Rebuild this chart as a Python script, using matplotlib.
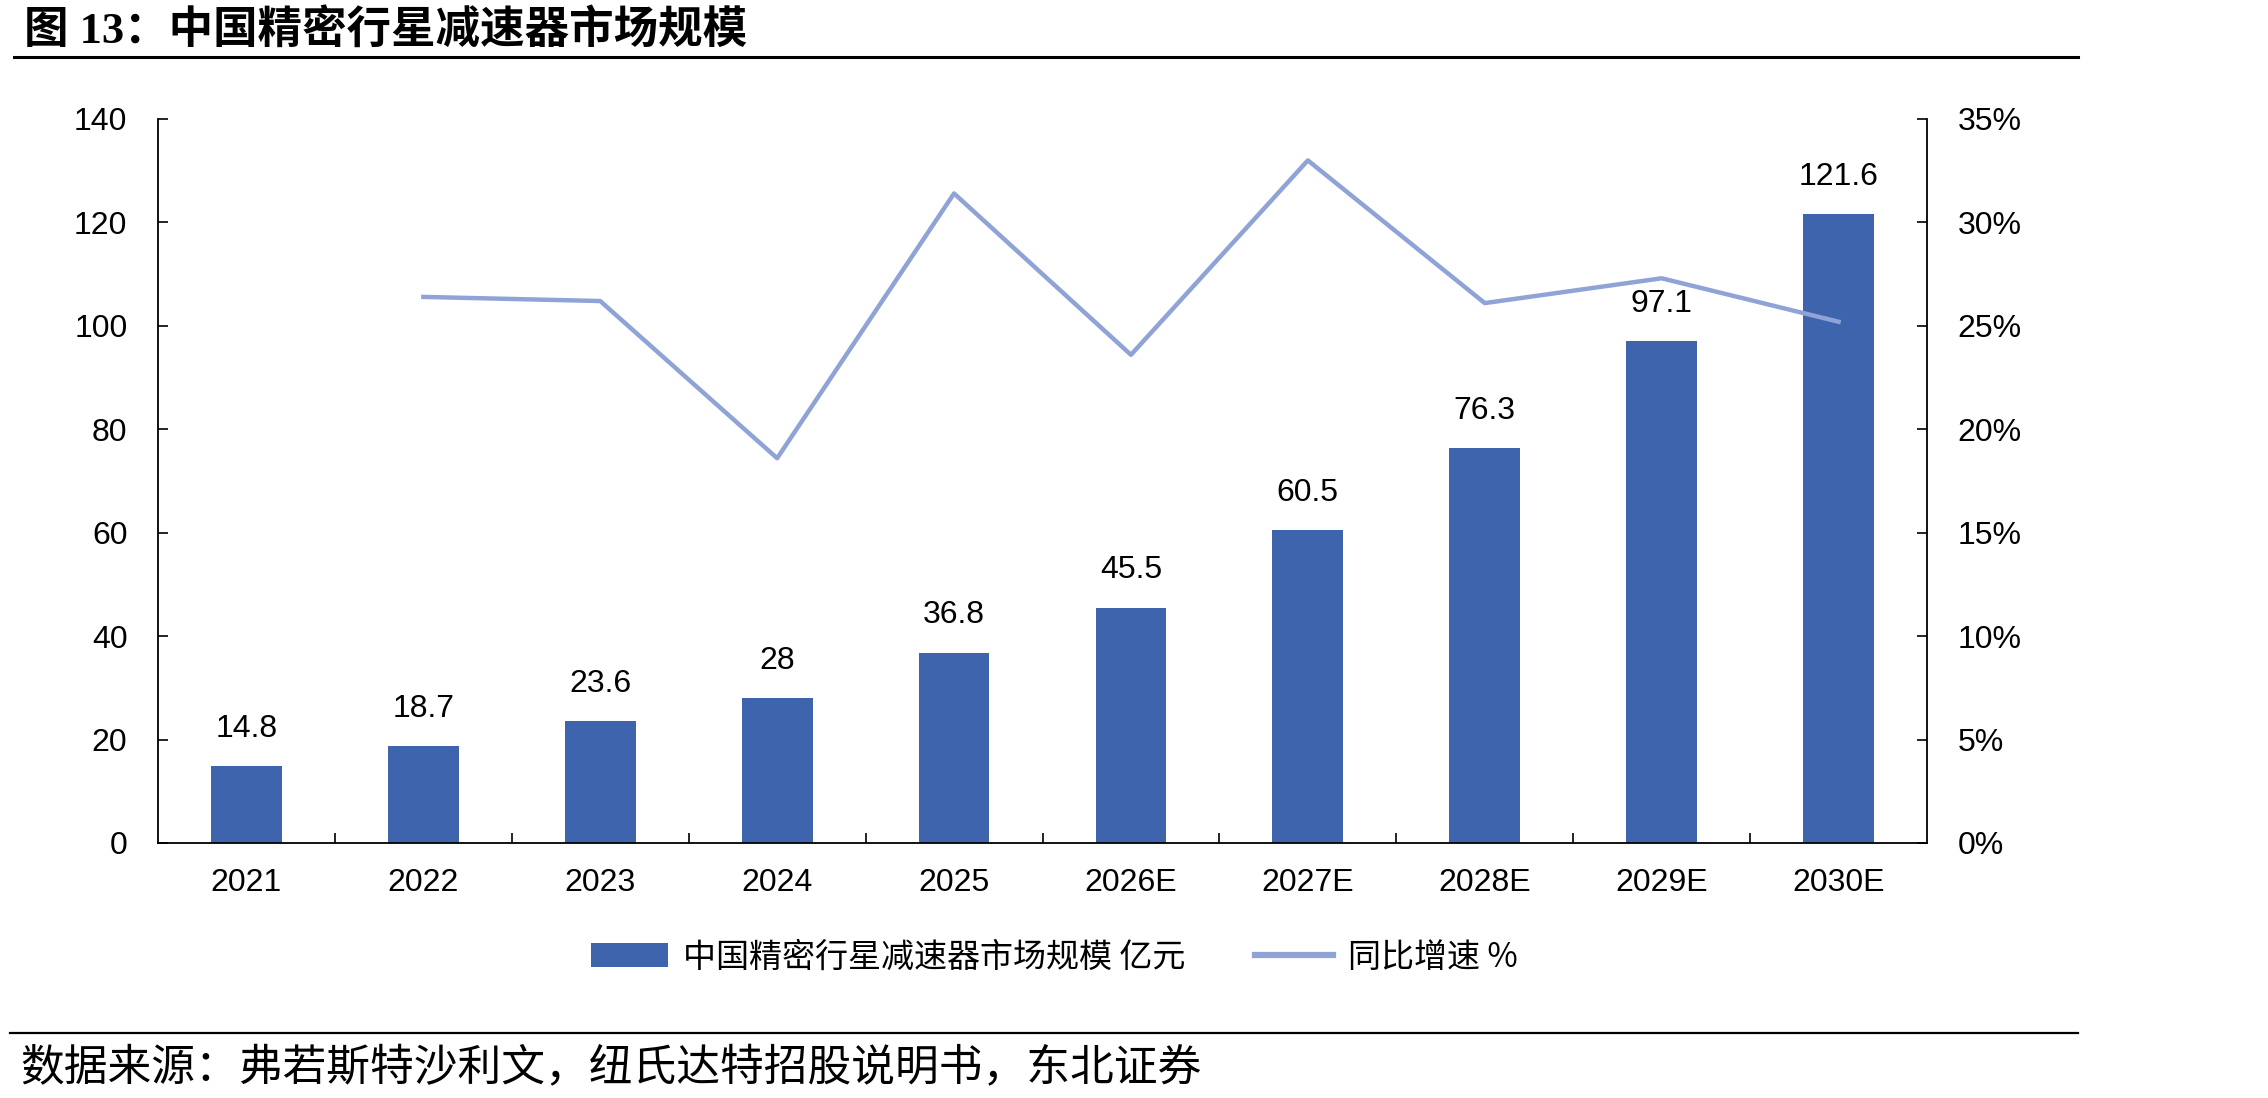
import matplotlib
matplotlib.use("Agg")
import matplotlib.pyplot as plt
from matplotlib.lines import Line2D
from matplotlib.patches import Patch
from matplotlib.ticker import FuncFormatter, FixedLocator

plt.rcParams['font.family'] = ['Liberation Sans', 'Noto Sans CJK SC', 'DejaVu Sans']

categories = ['2021', '2022', '2023', '2024', '2025', '2026E', '2027E', '2028E', '2029E', '2030E']
market_size = [14.8, 18.7, 23.6, 28.0, 36.8, 45.5, 60.5, 76.3, 97.1, 121.6]
bar_labels = ['14.8', '18.7', '23.6', '28', '36.8', '45.5', '60.5', '76.3', '97.1', '121.6']
growth_pct = [None, 26.4, 26.2, 18.6, 31.4, 23.6, 33.0, 26.1, 27.3, 25.2]
left_ticks = [0, 20, 40, 60, 80, 100, 120, 140]
right_ticks = [0, 5, 10, 15, 20, 25, 30, 35]

title_text = '图 13：中国精密行星减速器市场规模'
source_text = '数据来源：弗若斯特沙利文，纽氏达特招股说明书，东北证券'
bar_name = '中国精密行星减速器市场规模 亿元'
line_name = '同比增速 %'

bar_color = '#3D64AD'
line_color = '#8FA3D6'

W, H = 2268, 1098
fig = plt.figure(figsize=(W / 100, H / 100), dpi=100)

ax = fig.add_axes([158 / W, 1 - 843 / H, (1927 - 158) / W, (843 - 119) / H])
x = list(range(len(categories)))
bars = ax.bar(x, market_size, width=0.40, color=bar_color, zorder=2)
ax.set_xlim(-0.5, len(categories) - 0.5)
ax.set_ylim(0, 140)
ax.set_yticks(left_ticks)
ax.set_xticks(x)
ax.set_xticklabels(categories)
ax.xaxis.set_minor_locator(FixedLocator([i + 0.5 for i in range(len(categories) - 1)]))
ax.tick_params(axis='x', which='major', length=0, pad=18, labelsize=23)
ax.tick_params(axis='x', which='minor', direction='in', length=7, width=1.2)
ax.tick_params(axis='y', direction='in', length=7, width=1.2, pad=22, labelsize=23)
for s in ['top', 'right']:
    ax.spines[s].set_visible(False)
ax.spines['left'].set_linewidth(1.3)
ax.spines['bottom'].set_linewidth(1.3)

for xi, v, lab in zip(x, market_size, bar_labels):
    ax.annotate(lab, (xi, v), xytext=(0, 16), textcoords='offset points',
                ha='center', va='bottom', fontsize=23)

ax2 = ax.twinx()
gx = [xi for xi, g in zip(x, growth_pct) if g is not None]
gy = [g for g in growth_pct if g is not None]
ax2.plot(gx, gy, color=line_color, linewidth=3.2, zorder=3)
ax2.set_ylim(0, 35)
ax2.set_yticks(right_ticks)
ax2.yaxis.set_major_formatter(FuncFormatter(lambda v, p: f'{int(v)}%'))
ax2.tick_params(axis='y', direction='in', length=7, width=1.2, pad=22, labelsize=23)
for s in ['top', 'left', 'bottom']:
    ax2.spines[s].set_visible(False)
ax2.spines['right'].set_linewidth(1.3)

handles = [Patch(facecolor=bar_color, edgecolor='none'),
           Line2D([0], [0], color=line_color, linewidth=4.5)]
leg = fig.legend(handles, [bar_name, line_name], loc='center',
                 bbox_to_anchor=(1054 / W, 1 - 957 / H), ncol=2, frameon=False,
                 prop={'family': ['Noto Sans CJK SC', 'DejaVu Sans'], 'size': 23.8},
                 handlelength=2.35, handletextpad=0.45, columnspacing=2.1)

fig.text(24 / W, 1 - 30 / H, title_text, fontsize=32, fontweight='bold',
         family=['Liberation Serif', 'Noto Sans CJK SC'], ha='left', va='center')
fig.add_artist(Line2D([14 / W, 2078 / W], [1 - 57 / H, 1 - 57 / H], color='black', linewidth=2.2))
fig.add_artist(Line2D([10 / W, 2078 / W], [1 - 1033 / H, 1 - 1033 / H], color='black', linewidth=1.6))
fig.text(20 / W, 1 - 1068 / H, source_text, fontsize=31.5,
         family=['Noto Sans CJK SC', 'DejaVu Sans'], ha='left', va='center')

fig.savefig('out.png', dpi=100)
